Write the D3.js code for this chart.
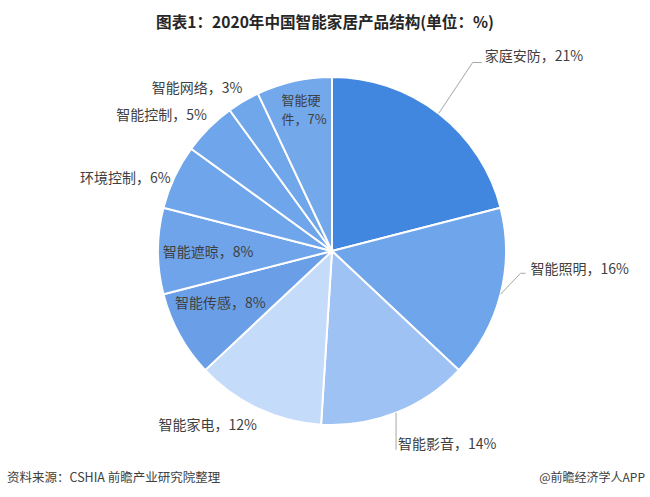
<!DOCTYPE html>
<html lang="zh">
<head>
<meta charset="UTF-8">
<script src="https://d3js.org/d3.v7.min.js"></script>
<style>
  body { margin: 0; background: #fff; font-family: "Noto Sans CJK SC", "Noto Sans", sans-serif; }
  svg text { fill: #404040; }
</style>
</head>
<body>
<svg id="chart" width="650" height="497"></svg>
<script>
// 数据
const categories = ["家庭安防", "智能照明", "智能影音", "智能家电", "智能传感", "智能遮晾", "环境控制", "智能控制", "智能网络", "智能硬件"];
const shares = [21, 16, 14, 12, 8, 8, 6, 5, 3, 7];
const colors = ["#4187e0", "#6fa5eb", "#9dc2f3", "#c4dbf9", "#6a9fe8", "#6fa4ea", "#6fa5ea", "#6fa5ea", "#70a6ea", "#73a8eb"];

const width = 650, height = 497;
const cx = 332, cy = 251, r = 174;

const svg = d3.select("#chart");

svg.append("text")
  .attr("x", 325).attr("y", 28).attr("text-anchor", "middle")
  .style("font-size", "15.6px").style("font-weight", "bold").style("fill", "#262626")
  .text("图表1：2020年中国智能家居产品结构(单位：%)");

const data = categories.map((c, i) => ({ name: c, value: shares[i], color: colors[i] }));

const pie = d3.pie().sort(null).value(d => d.value);
const arcs = pie(data);
const arc = d3.arc().innerRadius(0).outerRadius(r);

const g = svg.append("g").attr("transform", `translate(${cx},${cy})`);

g.selectAll("path")
  .data(arcs)
  .enter().append("path")
  .attr("d", arc)
  .attr("fill", d => d.data.color)
  .attr("stroke", "#fff")
  .attr("stroke-width", 2);

// 标签摆放：相对扇区中线与外圆交点（或内部点）的偏移
const labelCfg = [
  { mode: "lead", elbow: [34, -51], tail: [9, 0], dx: 3, dy: -2 },
  { mode: "lead", elbow: [20, -21], tail: [5, 0], dx: 5, dy: 1 },
  { mode: "lead", elbow: [0, 4], tail: [0, 33], dx: 2, dy: -1 },
  { mode: "out", dx: -1, dy: 22 },
  { mode: "in", dx: -3, dy: -3 },
  { mode: "in", dx: 0, dy: 6 },
  { mode: "out", dx: -4, dy: 6 },
  { mode: "out", dx: -2, dy: -8 },
  { mode: "out", dx: -1, dy: -8 },
  { mode: "in2", dx: -19, dy: -5 }
];

function edge(a, rr) { return [Math.sin(a) * rr, -Math.cos(a) * rr]; }

arcs.forEach((d, i) => {
  const a = (d.startAngle + d.endAngle) / 2;
  const txt = `${d.data.name}，${d.data.value}%`;
  const c = labelCfg[i];
  const p = edge(a, r);
  if (c.mode === "lead") {
    const p2 = [p[0] + c.elbow[0], p[1] + c.elbow[1]];
    const p3 = [p2[0] + c.tail[0], p2[1] + c.tail[1]];
    g.append("polyline")
      .attr("points", [p, p2, p3].map(q => q.join(",")).join(" "))
      .attr("fill", "none").attr("stroke", "#a6a6a6").attr("stroke-width", 1);
    g.append("text").attr("x", p3[0] + c.dx).attr("y", p3[1] + c.dy)
      .style("font-size", "14px").text(txt);
  } else if (c.mode === "out") {
    g.append("text").style("font-size", "14px").attr("text-anchor", "end")
      .attr("x", p[0] + c.dx).attr("y", p[1] + c.dy).text(txt);
  } else if (c.mode === "in") {
    const q = edge(a, 124);
    g.append("text").attr("x", q[0] + c.dx).attr("y", q[1] + c.dy)
      .attr("text-anchor", "middle").style("font-size", "14px").text(txt);
  } else {
    // 两行标签
    const q = edge(a, 144);
    g.append("text").style("font-size", "13px")
      .attr("x", q[0] + c.dx).attr("y", q[1] + c.dy).text(d.data.name.slice(0, 3));
    g.append("text").style("font-size", "13px")
      .attr("x", q[0] + c.dx).attr("y", q[1] + c.dy + 19).text(`${d.data.name.slice(3)}，${d.data.value}%`);
  }
});

svg.append("text").attr("x", 7).attr("y", 482)
  .style("font-size", "12.5px").text("资料来源：CSHIA 前瞻产业研究院整理");
svg.append("text").attr("x", 645).attr("y", 482).attr("text-anchor", "end")
  .style("font-size", "12px").text("@前瞻经济学人APP");
</script>
</body>
</html>
